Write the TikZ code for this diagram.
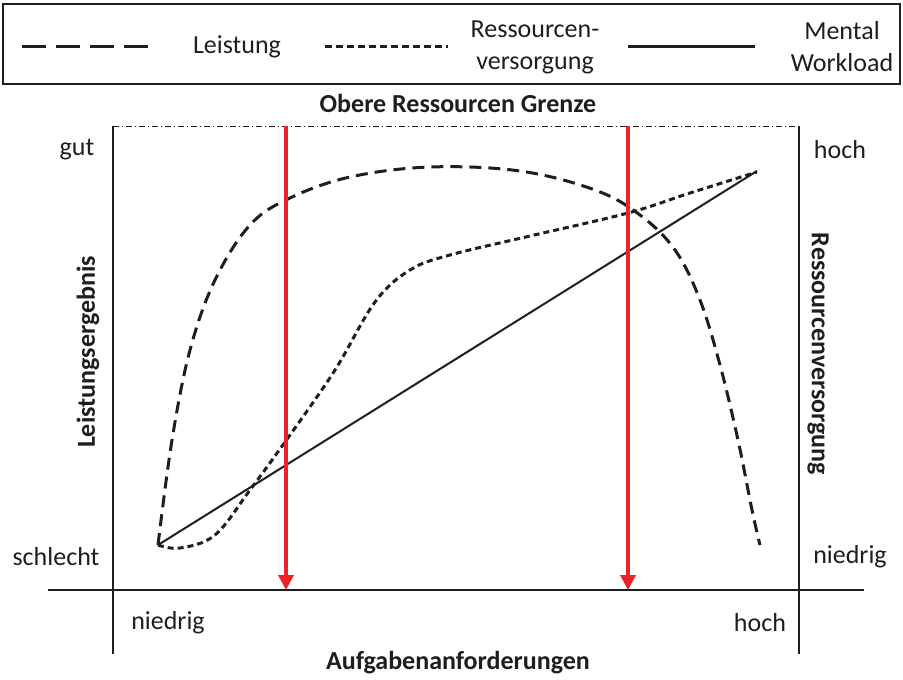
\documentclass[tikz,border=0pt]{standalone}
\usepackage{fontspec}
\setmainfont{Carlito}
\usetikzlibrary{arrows.meta}
\definecolor{redline}{RGB}{237,34,40}
\definecolor{ink}{RGB}{30,30,30}
\begin{document}
\begin{tikzpicture}[x=1pt,y=-1pt,
  lbl/.style={font=\fontsize{26}{32}\selectfont, text=ink, inner sep=0pt},
  blbl/.style={font=\fontsize{26}{32}\selectfont\bfseries, text=ink, inner sep=0pt},
  axis/.style={draw=ink, line width=1.4pt},
  leist/.style={draw=ink, line width=3pt, dash pattern=on 12pt off 7pt},
  ress/.style={draw=ink, line width=3pt, dash pattern=on 6pt off 4pt},
  workl/.style={draw=ink, line width=2pt},
  redarrow/.style={draw=redline, line width=3.5pt, -{Triangle[length=15pt,width=15pt]}}
]
\useasboundingbox (0,0) rectangle (903,680);
% legend
\draw[draw=ink, line width=2pt] (3,4) rectangle (900,84);
\draw[draw=ink, line width=3pt, dash pattern=on 24pt off 10pt] (22,46) -- (150,46);
\node[lbl] (lLeist) at (237,47) {Leistung};
\draw[draw=ink, line width=3pt, dash pattern=on 7pt off 4pt] (325,46) -- (448,46);
\node[lbl, align=center] (lRess) at (535,47) {Ressourcen-\\versorgung};
\draw[draw=ink, line width=3pt] (628,46) -- (755,46);
\node[lbl, align=center] (lMW) at (842,47) {Mental\\Workload};
% title
\node[blbl] (title) at (458,103) {Obere Ressourcen Grenze};
% frame
\coordinate (tl) at (113,126);
\coordinate (tr) at (799,126);
\draw[draw=ink, line width=1pt, dash pattern=on 6pt off 3pt on 1pt off 3pt] (tl) -- (tr);
\draw[axis] (tl) -- (113,654);
\draw[axis] (tr) -- (799,654);
\draw[axis] (48,590) -- (864,590);
% labels
\node[lbl] (gut) at (77,150) {gut};
\node[lbl] (schlecht) at (56,557) {schlecht};
\node[lbl] (hochR) at (840,150) {hoch};
\node[lbl] (niedrigR) at (850,557) {niedrig};
\node[lbl] (niedrigB) at (168,623) {niedrig};
\node[lbl] (hochB) at (760,623) {hoch};
\node[blbl] (xlab) at (458,663) {Aufgabenanforderungen};
\node[blbl, rotate=90] (ylabL) at (88,352) {Leistungsergebnis};
\node[blbl, rotate=-90] (ylabR) at (818,354) {Ressourcenversorgung};
% curves
\draw[workl] (158,545) -- (757,171);
\draw[leist] plot[smooth, tension=0.6] coordinates {(158,545) (172,440) (190,350) (215,280) (250,225) (290,198) (350,177) (430,167) (520,171) (595,190) (640,215) (675,250) (700,300) (720,365) (738,440) (752,510) (760,545)};
\draw[ress] plot[smooth, tension=0.6] coordinates {(158,545) (180,548) (215,535) (250,490) (290,435) (335,370) (375,302) (410,270) (450,255) (530,236) (628,213) (690,193) (757,172)};
% red arrows
\draw[redarrow] (286,126) -- (286,590);
\draw[redarrow] (628,126) -- (628,590);
\end{tikzpicture}
\end{document}
